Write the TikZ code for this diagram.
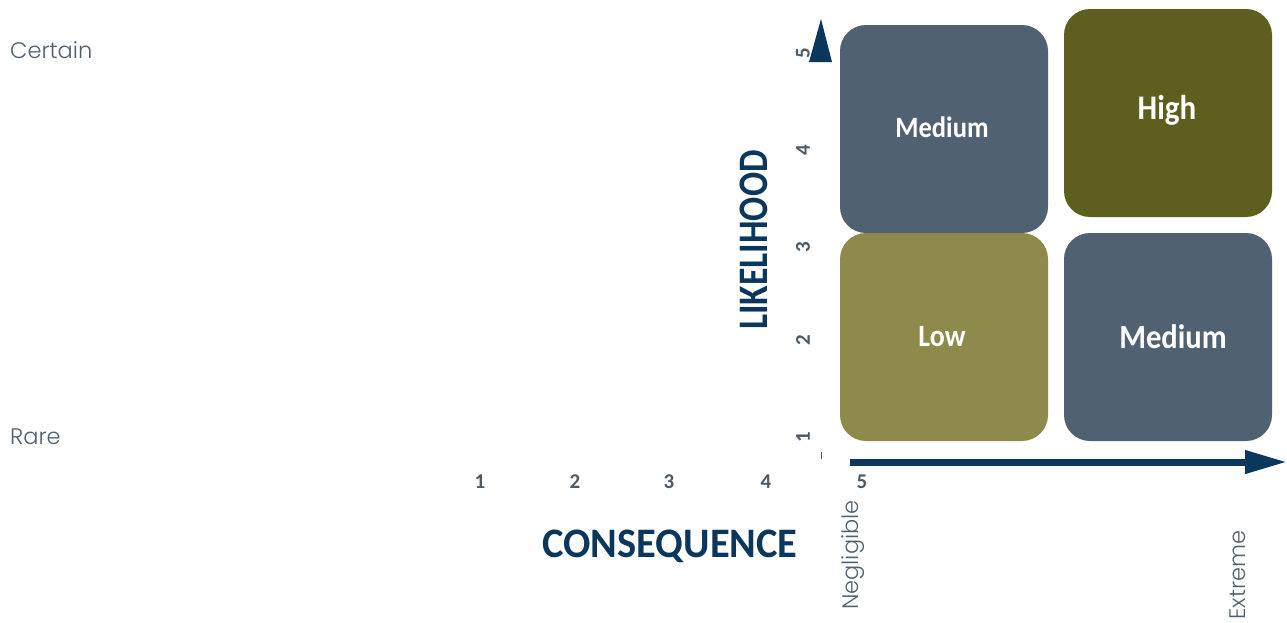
\documentclass[tikz,border=0pt]{standalone}
\usepackage{fontspec}
\usetikzlibrary{arrows.meta}
\newfontfamily\lblfont[FakeStretch=0.9]{Carlito}
\newfontfamily\titlefont[FakeStretch=0.964]{Carlito}
\newfontfamily\likefont[FakeStretch=0.85]{Carlito}
\newfontfamily\numfont{Carlito}
\newfontfamily\thinfont{Poppins Light}
\definecolor{slate}{RGB}{80,98,114}
\definecolor{olivedark}{RGB}{94,95,31}
\definecolor{olivelight}{RGB}{141,138,75}
\definecolor{navy}{RGB}{12,55,92}
\definecolor{numgrey}{RGB}{76,90,104}
\definecolor{thingrey}{RGB}{78,96,112}
\tikzset{
  cell/.style={minimum width=208pt, minimum height=208pt, rounded corners=26pt, inner sep=0pt},
  celltext/.style={text=white, inner sep=0pt, font=\lblfont\bfseries\fontsize{#1}{#1}\selectfont},
  num/.style={text=numgrey, font=\numfont\bfseries\fontsize{21}{21}\selectfont, inner sep=0pt},
  axistitle/.style={text=navy, font=\titlefont\bfseries\fontsize{42}{42}\selectfont, inner sep=0pt},
  endlabel/.style={text=thingrey, font=\thinfont\fontsize{22.5}{22.5}\selectfont, inner sep=0pt},
}
\begin{document}
\begin{tikzpicture}[x=1pt,y=-1pt]
\useasboundingbox (0,0) rectangle (1287,622);
% cells
\node[cell, fill=slate] (m1) at (944,129) {};
\node[cell, fill=olivedark] (hi) at (1168,113) {};
\node[cell, fill=olivelight] (lo) at (944,337) {};
\node[cell, fill=slate] (m2) at (1168,337) {};
\node[celltext=29.5] (tm1) at (942,127) {Medium};
\node[celltext=34.5] (thi) at (1167,110) {High};
\node[celltext=31] (tlo) at (942,337) {Low};
\node[celltext=34] (tm2) at (1173,337) {Medium};
% vertical axis head
\fill[navy] (821,19) -- (832,62) -- (809,62) -- cycle;
% horizontal axis
\coordinate (hs) at (850,462);
\coordinate (he) at (1287,462);
\draw[navy, line width=7pt, -{Triangle[length=42pt,width=22pt]}] (hs) -- (he);
% small tick
\draw[numgrey, line width=1pt] (821,452) -- (821,459);
% vertical numbers
\node[num, rotate=90] (v5) at (803,53) {5};
\node[num, rotate=90] (v4) at (803,150) {4};
\node[num, rotate=90] (v3) at (803,247) {3};
\node[num, rotate=90] (v2) at (803,340) {2};
\node[num, rotate=90] (v1) at (803,437) {1};
% horizontal numbers
\node[num] (h1) at (480,482) {1};
\node[num] (h2) at (575,482) {2};
\node[num] (h3) at (669,482) {3};
\node[num] (h4) at (766,482) {4};
\node[num] (h5) at (862,482) {5};
% titles
\node[axistitle] (cons) at (670,546) {CONSEQUENCE};
\node[axistitle, font=\likefont\bfseries\fontsize{42}{42}\selectfont, rotate=90] (like) at (754,240) {LIKELIHOOD};
% end labels
\node[endlabel, anchor=west] (cert) at (10,50) {Certain};
\node[endlabel, anchor=west] (rare) at (10,437) {Rare};
\node[endlabel, rotate=90] (negl) at (853,555) {Negligible};
\node[endlabel, rotate=90] (extr) at (1238,575) {Extreme};
\end{tikzpicture}
\end{document}
